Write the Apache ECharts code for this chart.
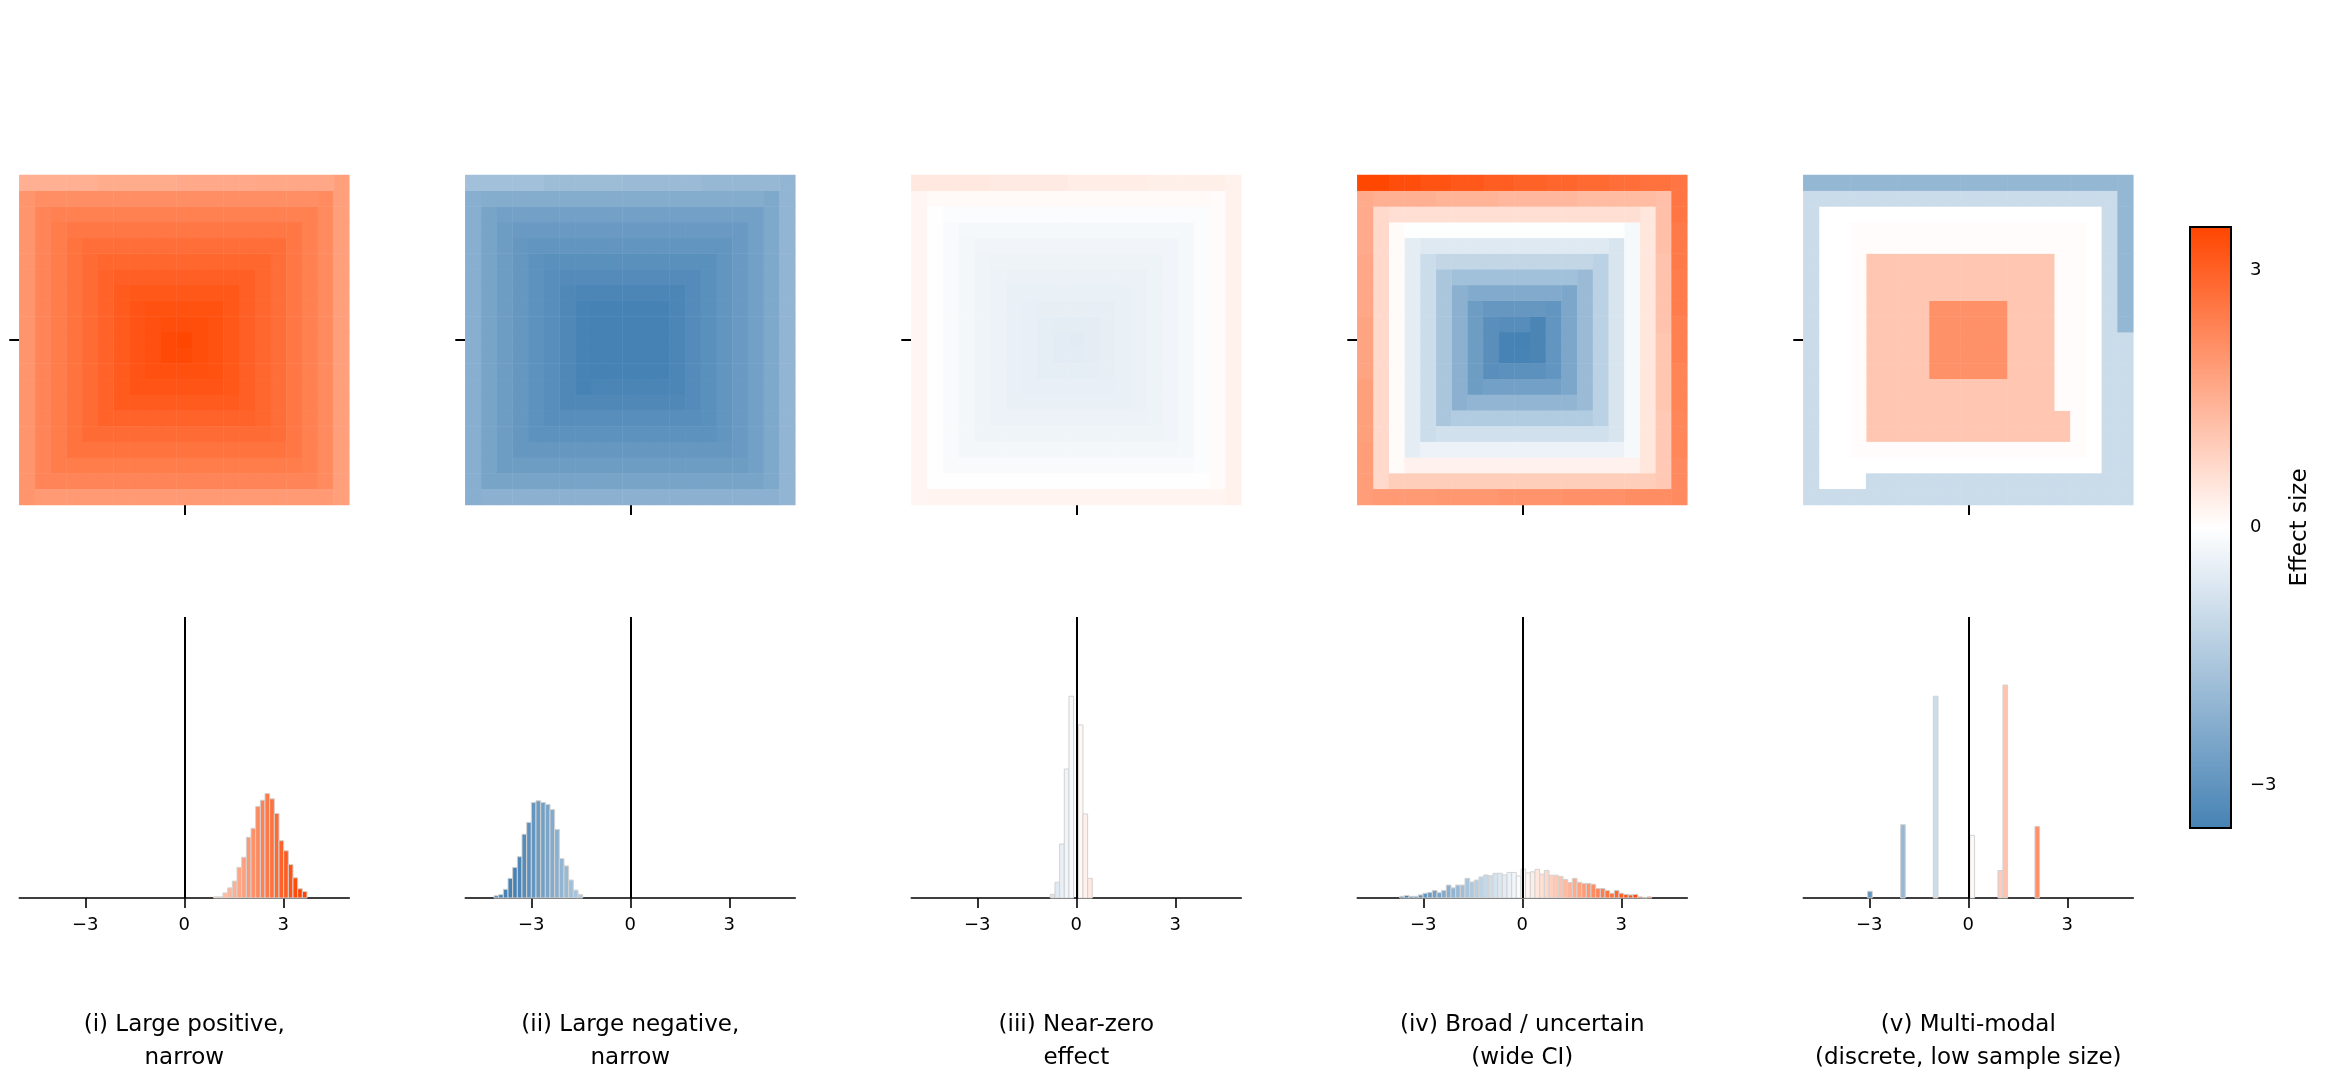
<!DOCTYPE html>
<html>
<head>
<meta charset="utf-8">
<title>Effect size spirals</title>
<script src="https://cdn.jsdelivr.net/npm/echarts@6/dist/echarts.min.js"></script>
<style>
  html, body { margin: 0; padding: 0; background: #ffffff; }
  #main { width: 2331px; height: 1090px; }
</style>
</head>
<body>
<div id="main"></div>
<script>
// sorted draws laid out on a square spiral from the centre
// each run = [value, number of cells along the spiral]
var spiral1 = [
  [3.47, 1], [3.42, 3], [3.34, 5], [3.30, 7], [3.26, 9], [3.21, 11], [3.15, 13], [3.08, 15],
  [3.01, 17], [2.93, 19], [2.86, 21], [2.79, 23], [2.72, 25], [2.64, 27], [2.56, 29],
  [2.47, 31], [2.39, 33], [2.29, 35], [2.19, 19], [2.12, 18], [2.00, 20], [1.90, 19],
  [1.80, 21], [1.66, 5], [1.61, 5], [1.56, 5], [1.50, 5]
];
var spiral2 = [
  [-3.5, 1], [-3.5, 3], [-3.5, 5], [-3.5, 7], [-3.5, 9], [-3.48, 6], [-3.42, 5], [-3.38, 13],
  [-3.31, 15], [-3.24, 17], [-3.16, 19], [-3.12, 21], [-3.05, 23], [-2.97, 25], [-2.90, 27],
  [-2.82, 29], [-2.74, 31], [-2.67, 33], [-2.55, 35], [-2.42, 19], [-2.33, 18], [-2.25, 20],
  [-2.18, 19], [-2.08, 21], [-1.98, 5], [-1.92, 5], [-1.85, 5], [-1.76, 5]
];
var spiral3 = [
  [-0.55, 1], [-0.53, 3], [-0.51, 5], [-0.48, 7], [-0.46, 9], [-0.44, 11], [-0.42, 13],
  [-0.40, 15], [-0.38, 17], [-0.36, 19], [-0.33, 21], [-0.30, 23], [-0.27, 25], [-0.23, 27],
  [-0.19, 29], [-0.14, 31], [-0.08, 33], [-0.02, 35], [0.07, 19], [0.10, 18], [0.16, 20],
  [0.20, 19], [0.25, 21], [0.30, 5], [0.34, 5], [0.39, 5], [0.44, 5]
];
var spiral4 = [
  [-3.5, 1], [-3.47, 3], [-3.42, 3], [-3.2, 2], [-3.13, 4], [-3.08, 3], [-2.97, 5], [-2.9, 4],
  [-2.74, 6], [-2.66, 5], [-2.48, 7], [-2.38, 6], [-2.18, 8], [-2.07, 7], [-1.92, 9], [-1.77, 8],
  [-1.6, 10], [-1.47, 9], [-1.28, 11], [-1.15, 10], [-0.98, 12], [-0.88, 11], [-0.74, 13],
  [-0.62, 12], [-0.5, 14], [-0.36, 13], [-0.17, 15], [-0.04, 14], [0.08, 16], [0.24, 15],
  [0.45, 17], [0.6, 16], [0.72, 18], [0.93, 17],
  [1.02, 5], [1.08, 5], [1.14, 5], [1.2, 4], [1.27, 5], [1.35, 5], [1.43, 4], [1.5, 4],
  [1.6, 4], [1.66, 4], [1.72, 4], [1.78, 4], [1.84, 4],
  [1.9, 4], [1.96, 4], [2.02, 4], [2.08, 4], [2.14, 3],
  [2.2, 3], [2.26, 3], [2.32, 3], [2.38, 3], [2.44, 3], [2.5, 3], [2.57, 3],
  [2.65, 2], [2.72, 2], [2.8, 2], [2.88, 2], [2.96, 2], [3.05, 2], [3.14, 2], [3.24, 2],
  [3.35, 2], [3.47, 2]
];
var spiral5 = [
  [2.07, 25], [1.07, 121], [0.05, 79], [0.0, 84], [-1.0, 102], [-2.02, 30]
];

var panelTitles = [
  '(i) Large positive,\nnarrow',
  '(ii) Large negative,\nnarrow',
  '(iii) Near-zero\neffect',
  '(iv) Broad / uncertain\n(wide CI)',
  '(v) Multi-modal\n(discrete, low sample size)'
];

// histograms: bar heights in % of the axis height
var binWidth = 0.1414;
var hist1Left = 0.89;
var hist1Heights = [0.4, 0.4, 1.8, 3.6, 6.0, 10.9, 14.5, 21.6, 24.8, 32.6, 34.8, 37.2, 35.3,
  30.1, 20.4, 16.8, 11.9, 7.2, 3.3, 2.3];
var hist2Left = -4.13;
var hist2Heights = [0.8, 1.2, 3.1, 7.0, 10.9, 14.7, 22.7, 26.9, 34.0, 34.6, 34.0, 33.3, 31.5,
  24.4, 14.0, 11.4, 6.4, 2.8, 1.2];
var hist3Left = -0.788;
var hist3Heights = [1.3, 5.6, 19.2, 45.9, 71.8, 0, 61.6, 29.9, 7.0];
var hist4Left = -3.716;
var hist4Heights = [0.6, 0.9, 0.6, 0.6, 1.1, 1.7, 2.0, 2.7, 1.9, 2.7, 4.6, 3.6, 4.6, 4.6, 7.0,
  5.7, 6.4, 7.5, 8.2, 7.9, 8.8, 8.8, 8.2, 9.1, 9.1, 7.8, 10.3, 8.9, 9.3, 10.2, 8.5, 9.8, 8.1,
  8.1, 7.7, 6.6, 5.5, 7.0, 5.6, 5.2, 5.2, 4.9, 3.4, 3.4, 2.7, 1.7, 2.7, 1.7, 1.3, 1.1, 1.3,
  0.4, 0.1, 0.4];
var hist5Centers = [-2.98, -1.98, -0.99, 0.12, 0.97, 1.12, 2.09];
var hist5Heights = [2.4, 26.1, 71.8, 22.3, 9.8, 75.8, 25.5];

var histTicks = [-3, 0, 3];
var cbarTicks = [-3, 0, 3];
var vMin = -3.5, vMax = 3.5;
var cmap = ['#4682B4', '#FFFFFF', '#FF4500'];
var gridN = 21;

var FONT = '"DejaVu Sans", "Liberation Sans", sans-serif';
var panelLeft0 = 19.3, panelStep = 446, panelSize = 330;

// spiral order of cells [col, row]: centre, then left+bottom / right+top sides
function spiralCells(n) {
  var c = (n - 1) / 2;
  var cells = [[c, c]];
  for (var s = 2; s <= n; s++) {
    var k, i;
    if (s % 2 === 0) {
      k = (s - 2) / 2;
      for (i = c - k; i <= c + k + 1; i++) cells.push([c - k - 1, i]);
      for (i = c - k; i <= c + k; i++) cells.push([i, c + k + 1]);
    } else {
      k = (s - 3) / 2;
      for (i = c + k + 1; i >= c - k - 1; i--) cells.push([c + k + 1, i]);
      for (i = c + k; i >= c - k - 1; i--) cells.push([i, c - k - 1]);
    }
  }
  return cells;
}

function heatData(runs) {
  var cells = spiralCells(gridN);
  var out = [];
  var p = 0;
  runs.forEach(function (r) {
    for (var j = 0; j < r[1] && p < cells.length; j++, p++) {
      out.push([cells[p][0], cells[p][1], r[0]]);
    }
  });
  return out;
}

function binsFromLeft(left, heights) {
  var out = [];
  heights.forEach(function (h, i) {
    if (h <= 0) return;
    var a = left + i * binWidth;
    out.push([a, a + binWidth, h, a + binWidth / 2]);
  });
  return out;
}

function binsFromCentres(centres, heights) {
  return centres.map(function (c, i) {
    return [c - binWidth / 2, c + binWidth / 2, heights[i], c];
  });
}

function minusSign(v) {
  return String(v).replace('-', '\u2212');
}

function renderBar(params, api) {
  var lo = api.coord([api.value(0), 0]);
  var hi = api.coord([api.value(1), api.value(2)]);
  var t = (api.value(3) - vMin) / (vMax - vMin);
  t = Math.max(0, Math.min(1, t));
  return {
    type: 'rect',
    shape: { x: lo[0], y: hi[1], width: hi[0] - lo[0], height: lo[1] - hi[1] },
    style: { fill: echarts.color.lerp(t, cmap), stroke: '#d2d2d2', lineWidth: 1 }
  };
}

function renderColorbar(params, api) {
  var top = api.coord([api.value(0), api.value(3)]);
  var bot = api.coord([api.value(1), api.value(2)]);
  return {
    type: 'rect',
    shape: { x: top[0], y: top[1], width: bot[0] - top[0], height: bot[1] - top[1] },
    style: {
      fill: new echarts.graphic.LinearGradient(0, 0, 0, 1, [
        { offset: 0, color: cmap[2] },
        { offset: 0.5, color: cmap[1] },
        { offset: 1, color: cmap[0] }
      ]),
      stroke: '#000',
      lineWidth: 2
    }
  };
}

var spirals = [spiral1, spiral2, spiral3, spiral4, spiral5];
var hists = [
  binsFromLeft(hist1Left, hist1Heights),
  binsFromLeft(hist2Left, hist2Heights),
  binsFromLeft(hist3Left, hist3Heights),
  binsFromLeft(hist4Left, hist4Heights),
  binsFromCentres(hist5Centers, hist5Heights)
];

var cats = [];
for (var ci = 0; ci < gridN; ci++) cats.push(String(ci));
var midOnly = function (idx) { return idx === (gridN - 1) / 2; };

var grids = [], xAxes = [], yAxes = [], series = [], graphics = [];

// spiral heatmaps
spirals.forEach(function (runs, i) {
  var left = panelLeft0 + panelStep * i;
  grids.push({ left: left, top: 175, width: panelSize, height: panelSize });
  var tick = {
    show: true, alignWithLabel: true, interval: midOnly, length: 10,
    lineStyle: { color: '#000', width: 2 }
  };
  xAxes.push({
    type: 'category', gridIndex: i, data: cats, position: 'bottom',
    axisLine: { show: false }, axisTick: tick,
    axisLabel: { show: false, interval: midOnly }, splitLine: { show: false }
  });
  yAxes.push({
    type: 'category', gridIndex: i, data: cats, inverse: true, position: 'left',
    axisLine: { show: false }, axisTick: tick,
    axisLabel: { show: false, interval: midOnly }, splitLine: { show: false }
  });
  series.push({
    type: 'heatmap', xAxisIndex: i, yAxisIndex: i,
    data: heatData(runs),
    itemStyle: { borderWidth: 0 },
    emphasis: { disabled: true },
    silent: true
  });
});

// histograms
hists.forEach(function (bins, i) {
  var gi = 5 + i;
  var left = panelLeft0 + panelStep * i;
  grids.push({ left: left, top: 617, width: panelSize, height: 281 });
  xAxes.push({
    type: 'value', gridIndex: gi, min: -5, max: 5,
    axisLine: { show: true, onZero: false, lineStyle: { color: '#000', width: 1.6 } },
    axisTick: { show: true, customValues: histTicks, length: 10, lineStyle: { color: '#000', width: 1.6 } },
    axisLabel: {
      customValues: histTicks, formatter: minusSign, margin: 18,
      fontSize: 18, fontFamily: FONT, color: '#000'
    },
    splitLine: { show: false }
  });
  yAxes.push({ type: 'value', gridIndex: gi, min: 0, max: 100, show: false });
  series.push({
    type: 'custom', xAxisIndex: gi, yAxisIndex: gi,
    renderItem: renderBar,
    data: bins,
    encode: { x: [0, 1], y: 2 },
    silent: true,
    markLine: {
      silent: true, symbol: ['none', 'none'], label: { show: false },
      lineStyle: { color: '#000', width: 2, type: 'solid' },
      data: [{ xAxis: 0 }]
    }
  });

  graphics.push({
    type: 'text',
    x: left + panelSize / 2, y: 1042,
    style: {
      text: panelTitles[i], align: 'center', verticalAlign: 'middle',
      fontSize: 23, fontFamily: FONT, fill: '#000', lineHeight: 33
    }
  });
});

// colour bar
grids.push({ left: 2190, top: 227, width: 41, height: 601 });
xAxes.push({ type: 'value', gridIndex: 10, min: 0, max: 1, show: false });
yAxes.push({
  type: 'value', gridIndex: 10, min: vMin, max: vMax, position: 'right',
  axisLine: { show: false },
  axisTick: { show: true, customValues: cbarTicks, length: 10, lineStyle: { color: '#000', width: 1.6 } },
  axisLabel: {
    customValues: cbarTicks, formatter: minusSign, margin: 19,
    fontSize: 18, fontFamily: FONT, color: '#000'
  },
  splitLine: { show: false },
  name: 'Effect size', nameLocation: 'middle', nameGap: 58, nameRotate: 90,
  nameTextStyle: { fontSize: 23, fontFamily: FONT, color: '#000' }
});
series.push({
  type: 'custom', xAxisIndex: 10, yAxisIndex: 10,
  renderItem: renderColorbar,
  data: [[0, 1, vMin, vMax]],
  silent: true
});

var chart = echarts.init(document.getElementById('main'));
chart.setOption({
  backgroundColor: '#ffffff',
  animation: false,
  textStyle: { fontFamily: FONT },
  grid: grids,
  xAxis: xAxes,
  yAxis: yAxes,
  visualMap: {
    type: 'continuous', show: false, min: vMin, max: vMax,
    seriesIndex: [0, 1, 2, 3, 4], dimension: 2,
    inRange: { color: cmap }
  },
  graphic: graphics,
  series: series
});
</script>
</body>
</html>
